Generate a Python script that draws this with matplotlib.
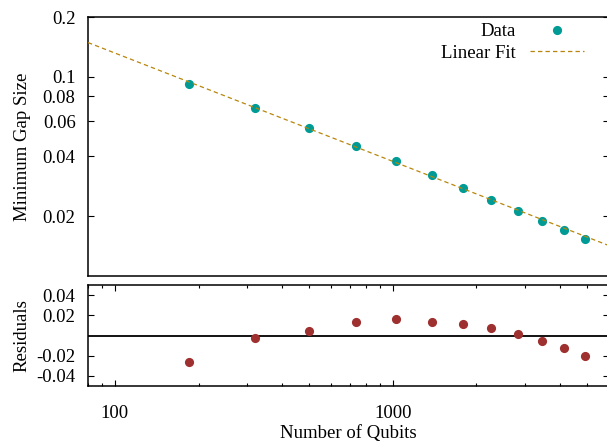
import numpy as np
import matplotlib
matplotlib.use("Agg")
from matplotlib import pyplot as plt
from matplotlib.ticker import FixedLocator, NullFormatter, NullLocator, LogLocator

# values
qubits = [184, 320, 499, 735, 1027, 1380, 1784, 2265, 2812, 3436, 4130, 4911]
gap = [0.0919, 0.0699, 0.0551, 0.0451, 0.0376, 0.0320, 0.0277, 0.0242,
       0.0213, 0.0190, 0.0171, 0.0154]
resid = [-0.0265, -0.0025, 0.0045, 0.0135, 0.0165, 0.0135, 0.0115, 0.0075,
         0.0015, -0.0055, -0.0125, -0.0205]
fit_coef = 1.614
fit_slope = -0.544

gap_ticks = [0.02, 0.04, 0.06, 0.08, 0.1, 0.2]
gap_labels = ['0.02', '0.04', '0.06', '0.08', '0.1', '0.2']
res_ticks = [-0.04, -0.02, 0.02, 0.04]
res_labels = ['-0.04', '-0.02', '0.02', '0.04']
x_ticks = [100, 1000]
x_labels = ['100', '1000']

teal = '#009b95'
brown = '#9e3030'
gold = '#b8860b'

plt.rcParams['font.family'] = ['Liberation Serif', 'DejaVu Serif']
plt.rcParams['font.size'] = 13.5

W, H = 607, 443
fig = plt.figure(figsize=(W / 100, H / 100), dpi=100)

def box(l, t, r, b):
    return [l / W, 1 - b / H, (r - l) / W, (b - t) / H]

ax1 = fig.add_axes(box(88, 17, 609, 276))
ax2 = fig.add_axes(box(88, 285, 609, 386))

xlim = (80, 6000)

# top panel
xf = np.logspace(np.log10(xlim[0]), np.log10(xlim[1]), 200)
ax1.plot(xf, fit_coef * xf ** fit_slope, color=gold, lw=0.9,
         linestyle=(0, (3.5, 2.5)), label='Linear Fit', zorder=3)
ax1.plot(qubits, gap, 'o', color=teal, ms=6.6, mec='none', label='Data', zorder=2)
ax1.set_xscale('log')
ax1.set_yscale('log')
ax1.set_xlim(*xlim)
ax1.set_ylim(0.01, 0.2)
ax1.xaxis.set_major_locator(NullLocator())
ax1.xaxis.set_minor_locator(NullLocator())
ax1.yaxis.set_major_locator(FixedLocator(gap_ticks))
ax1.yaxis.set_minor_locator(NullLocator())
ax1.set_yticklabels(gap_labels)
ax1.set_ylabel('Minimum Gap Size')

h, l = ax1.get_legend_handles_labels()
ax1.legend([h[1], h[0]], [l[1], l[0]], loc='upper right', frameon=False,
           markerfirst=False, borderaxespad=0.0, bbox_to_anchor=(0.96, 0.99),
           handlelength=2.9, handletextpad=0.75, labelspacing=0.22,
           borderpad=0.2)

# residuals panel
ax2.axhline(0, color='black', lw=1.3, zorder=1)
ax2.plot(qubits, resid, 'o', color=brown, ms=6.6, mec='none', zorder=2)
ax2.set_xscale('log')
ax2.set_xlim(*xlim)
ax2.set_ylim(-0.05, 0.05)
ax2.xaxis.set_major_locator(FixedLocator(x_ticks))
ax2.set_xticklabels(x_labels)
ax2.xaxis.set_minor_locator(LogLocator(base=10, subs=np.arange(2, 10)))
ax2.xaxis.set_minor_formatter(NullFormatter())
ax2.yaxis.set_major_locator(FixedLocator(res_ticks))
ax2.set_yticklabels(res_labels)
ax2.set_ylabel('Residuals')
ax2.set_xlabel('Number of Qubits', labelpad=1.5)

for ax in (ax1, ax2):
    for s in ax.spines.values():
        s.set_linewidth(1.1)
    ax.tick_params(which='major', direction='in', top=True, right=True,
                   length=4.5, width=0.8, pad=9)
    ax.tick_params(which='minor', direction='in', top=True, right=True,
                   length=2.5, width=0.8)
    ax.yaxis.set_label_coords(-0.11, 0.5)

ax2.tick_params(axis='x', which='major', pad=14)

fig.savefig('out.png', dpi=100)
